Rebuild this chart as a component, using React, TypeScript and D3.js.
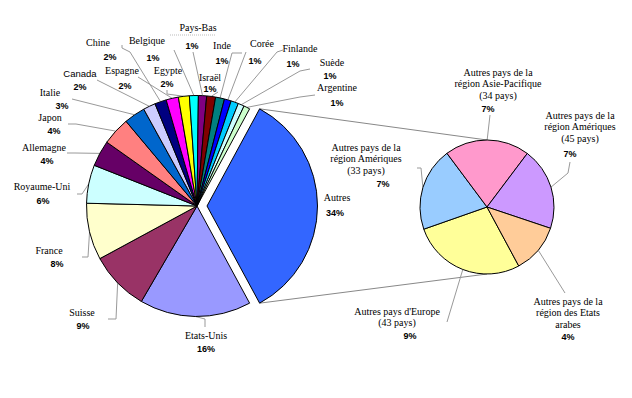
import React from "react";
import * as d3 from "d3";

// ---- data ----
const countries = ["Etats-Unis","Suisse","France","Royaume-Uni","Allemagne","Japon","Italie","Canada","Chine","Espagne","Egypte","Belgique","Pays-Bas","Israël","Inde","Corée","Finlande","Suède","Argentine","Autres"];
const shares = [16.3,8.7,8.3,5.6,3.8,4.1,3.1,1.8,1.7,1.8,1.6,1.3,1.2,1.3,1.3,1.0,1.1,0.9,0.9,34.2];
const mainColors = ["#9999FF","#993366","#FFFFCC","#CCFFFF","#660066","#FF8080","#0066CC","#CCCCFF","#000080","#FF00FF","#FFFF00","#00FFFF","#800080","#800000","#008080","#0000FF","#00CCFF","#CCFFFF","#CCFFCC","#3366FF"];

const regionLabels = [
  ["Autres pays d'Europe","(43 pays)"],
  ["Autres pays de la","région Amériques","(33 pays)"],
  ["Autres pays de la","région Asie-Pacifique","(34 pays)"],
  ["Autres pays de la","région Amériques","(45 pays)"],
  ["Autres pays de la","région des Etats","arabes"],
];
const regionShares = [9.4,6.9,7.0,6.8,4.1];
const regionColors = ["#FFFF99","#99CCFF","#FF99CC","#CC99FF","#FFCC99"];

// ---- layout ----
const W = 632, H = 398;
const C1 = { x: 197, y: 206 }, R1 = 110.5, EXPLODE = 10;
const C2 = { x: 487, y: 207 }, R2 = 67;
const deg = Math.PI / 180;

// label layout: name center, pct center, leader start points
const mainLayout: Record<string, any> = {
  "Etats-Unis": { n: [206, 335], p: [206, 348], l: [[205, 327], [205, 319]] },
  "Suisse": { n: [82, 312], p: [83, 325], l: [[108, 319], [116, 319]] },
  "France": { n: [49, 250], p: [57, 263], l: [[82, 257], [88, 257]] },
  "Royaume-Uni": { n: [42, 186], p: [43, 200], l: [[77, 194], [82, 194]] },
  "Allemagne": { n: [44, 147], p: [47, 160], l: [[67, 153], [75, 153]] },
  "Japon": { n: [50, 117], p: [54, 130], l: [[68, 124], [76, 124]] },
  "Italie": { n: [50, 92], p: [62, 105], l: [[72, 99]] },
  "Canada": { n: [80, 73], p: [80, 86], l: [[97, 80]] },
  "Chine": { n: [98, 42], p: [110, 56], l: [[122, 45], [122, 48], [130, 52]] },
  "Espagne": { n: [122, 70], p: [125, 85], l: [[138, 77]] },
  "Egypte": { n: [168, 70], p: [167, 83], l: [[167, 90], [167, 94]] },
  "Belgique": { n: [147, 40], p: [153, 57], l: [[174, 50]] },
  "Pays-Bas": { n: [198, 27], p: [192, 45], l: [[193, 52]] },
  "Israël": { n: [210, 77], p: [210, 88], l: [[218, 92]] },
  "Inde": { n: [222, 45], p: [222, 60], l: [[242, 53], [232, 53]] },
  "Corée": { n: [262, 43], p: [255, 60], l: [[246, 52]] },
  "Finlande": { n: [300, 48], p: [293, 63], l: [[283, 50], [277, 52]] },
  "Suède": { n: [332, 62], p: [330, 75], l: [[310, 69], [300, 71]] },
  "Argentine": { n: [337, 87], p: [337, 102], l: [[315, 95], [300, 97]] },
  "Autres": { n: [337, 197], p: [335, 212], l: [] },
};

const regionLayout = [
  { x: 397, y: 311, p: [410, 335], l: [[447, 322]] },
  { x: 366, y: 147, p: [383, 183], l: [[417, 168], [421, 168]] },
  { x: 498, y: 72, p: [488, 108], l: [[490, 115]] },
  { x: 580, y: 115, p: [570, 153], l: [[570, 162], [568, 173]] },
  { x: 568, y: 301, p: [568, 336], l: [[565, 293]] },
];

const SERIF = "Liberation Serif, Times New Roman, DejaVu Serif, serif";
const SANS = "Liberation Sans, Arial, sans-serif";

export default function App() {
  const total = d3.sum(shares);
  const autresIdx = countries.indexOf("Autres");
  const autresSpan = (shares[autresIdx] / total) * 2 * Math.PI;
  const start1 = Math.PI / 2 + autresSpan / 2; // first slice starts right after "Autres", which is centred at 3 o'clock
  const pie1 = d3.pie<number>().sort(null).value((d) => d)
    .startAngle(start1).endAngle(start1 + 2 * Math.PI);
  const arcs1 = pie1(shares);
  const arc1 = d3.arc<d3.PieArcDatum<number>>().innerRadius(0).outerRadius(R1);

  const start2 = 151.7 * deg;
  const pie2 = d3.pie<number>().sort(null).value((d) => d)
    .startAngle(start2).endAngle(start2 + 2 * Math.PI);
  const arcs2 = pie2(regionShares);
  const arc2 = d3.arc<d3.PieArcDatum<number>>().innerRadius(0).outerRadius(R2);

  const pt = (cx: number, cy: number, r: number, a: number): [number, number] =>
    [cx + r * Math.sin(a), cy - r * Math.cos(a)];

  const line = d3.line();

  const autresArc = arcs1[autresIdx];
  const autresMid = (autresArc.startAngle + autresArc.endAngle) / 2;
  const ox = C1.x + EXPLODE * Math.sin(autresMid);
  const oy = C1.y - EXPLODE * Math.cos(autresMid);
  const topCorner = pt(ox, oy, R1, autresArc.startAngle);
  const botCorner = pt(ox, oy, R1, autresArc.endAngle);
  const pieTop = pt(C2.x, C2.y, R2, 0);
  const pieBot = pt(C2.x, C2.y, R2, Math.PI);

  const serifStyle = { fontFamily: SERIF, fontSize: "10px" };
  const sansStyle = { fontFamily: SANS, fontSize: "9.5px" };
  const pctStyle = { fontFamily: SANS, fontSize: "9px", fontWeight: 700 };

  return (
    <svg width={W} height={H} style={{ position: "absolute", left: 0, top: 0, background: "#fff" }}>
      {/* connector lines */}
      <path d={line([topCorner, pieTop]) || ""} stroke="#888" strokeWidth={1} fill="none" />
      <path d={line([botCorner, pieBot]) || ""} stroke="#888" strokeWidth={1} fill="none" />

      {/* leader lines main pie */}
      {arcs1.map((a, i) => {
        const lay = mainLayout[countries[i]];
        if (!lay || lay.l.length === 0) return null;
        const mid = (a.startAngle + a.endAngle) / 2;
        const end = pt(C1.x, C1.y, R1, mid);
        return <path key={"l" + i} d={line([...lay.l, end]) || ""} stroke="#999" strokeWidth={1} fill="none" />;
      })}
      {/* dotted line under Pays-Bas */}
      <line x1={170} y1={35} x2={216} y2={35} stroke="#bbb" strokeDasharray="1,1" />

      {/* main pie */}
      <g>
        {arcs1.map((a, i) => {
          const isAutres = i === autresIdx;
          return (
            <path key={i} d={arc1(a) || ""} fill={mainColors[i]} stroke="#000" strokeWidth={1}
              transform={isAutres ? `translate(${ox},${oy})` : `translate(${C1.x},${C1.y})`} />
          );
        })}
      </g>

      {/* second pie leaders */}
      {arcs2.map((a, i) => {
        const lay = regionLayout[i];
        const mid = (a.startAngle + a.endAngle) / 2;
        const end = pt(C2.x, C2.y, R2, mid);
        return <path key={"rl" + i} d={line([...lay.l, end]) || ""} stroke="#999" strokeWidth={1} fill="none" />;
      })}
      {/* second pie */}
      <g transform={`translate(${C2.x},${C2.y})`}>
        {arcs2.map((a, i) => (
          <path key={i} d={arc2(a) || ""} fill={regionColors[i]} stroke="#000" strokeWidth={1} />
        ))}
      </g>

      {/* main labels */}
      {countries.map((c, i) => {
        const lay = mainLayout[c];
        const pct = Math.round((shares[i] / total) * 100) + "%";
        const isSans = c === "Canada";
        return (
          <g key={"t" + i}>
            <text x={lay.n[0]} y={lay.n[1] + 3.5} textAnchor="middle" fill="#000"
              style={isSans ? sansStyle : serifStyle}>{c}</text>
            <text x={lay.p[0]} y={lay.p[1] + 3.5} textAnchor="middle" fill="#000"
              style={pctStyle}>{pct}</text>
          </g>
        );
      })}

      {/* region labels */}
      {regionLabels.map((lines, i) => {
        const lay = regionLayout[i];
        const pct = Math.round((regionShares[i] / total) * 100) + "%";
        return (
          <g key={"r" + i}>
            {lines.map((s, j) => (
              <text key={j} x={lay.x} y={lay.y + j * 11.7 + 3.5} textAnchor="middle" fill="#000"
                style={serifStyle}>{s}</text>
            ))}
            <text x={lay.p[0]} y={lay.p[1] + 3.5} textAnchor="middle" fill="#000"
              style={pctStyle}>{pct}</text>
          </g>
        );
      })}
    </svg>
  );
}
